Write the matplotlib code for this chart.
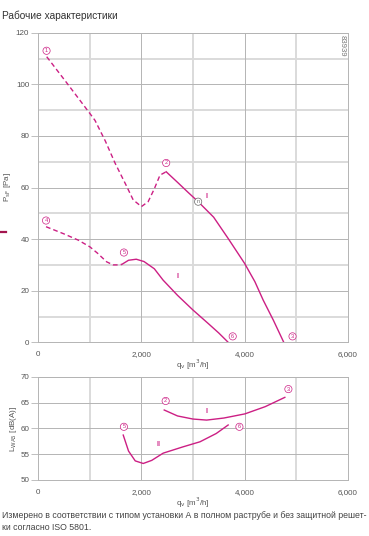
import matplotlib
matplotlib.use("Agg")
import matplotlib.pyplot as plt
from matplotlib.lines import Line2D

plt.rcParams['font.family'] = ['Liberation Sans', 'DejaVu Sans']

# ---- data: pressure curves (q_v [m3/h], p_sF [Pa]) ----
c1_dash_q = [163, 550, 1000, 1100, 1300, 1490, 1700, 1840, 2000, 2130, 2250, 2360, 2480]
c1_dash_p = [110.7, 100.6, 88.7, 86.0, 78.0, 69.4, 61.0, 55.2, 52.6, 54.5, 59.5, 64.8, 66.1]
c1_sol_q = [2480, 2700, 2900, 3100, 3400, 3680, 4000, 4200, 4360, 4560, 4760]
c1_sol_p = [66.1, 62.0, 58.2, 54.5, 48.5, 40.3, 30.6, 23.5, 16.4, 8.5, 0.0]

c2_dash_q = [150, 500, 775, 1000, 1150, 1325, 1450, 1550, 1620]
c2_dash_p = [44.8, 42.0, 39.6, 37.0, 34.5, 31.2, 30.0, 30.0, 30.2]
c2_sol_q = [1620, 1750, 1900, 2050, 2250, 2420, 2700, 3000, 3300, 3500, 3682]
c2_sol_p = [30.2, 31.8, 32.2, 31.3, 28.5, 24.1, 18.2, 12.5, 7.2, 3.6, 0.0]

# ---- data: sound power curves (q_v [m3/h], L_WA5 [dB(A)]) ----
s1_q = [2442, 2700, 3000, 3264, 3600, 4006, 4400, 4781]
s1_l = [63.55, 62.4, 61.8, 61.6, 62.0, 62.8, 64.2, 66.0]
s2_q = [1647, 1750, 1880, 2035, 2200, 2422, 2800, 3136, 3450, 3682]
s2_l = [58.7, 55.6, 53.7, 53.2, 53.8, 55.2, 56.4, 57.4, 59.0, 60.65]

# labels on curves
p_marks = [("1", 160, 113.0), ("2", 2480, 69.5), ("3", 4930, 2.3),
           ("4", 150, 47.2), ("5", 1660, 34.8), ("6", 3770, 2.3)]
s_marks = [("5", 1660, 60.3), ("2", 2470, 65.3), ("3", 4850, 67.6), ("6", 3900, 60.3)]

x_ticks = [0, 2000, 4000, 6000]
x_tick_labels = ["0", "2,000", "4,000", "6,000"]
p_ticks = [0, 20, 40, 60, 80, 100, 120]
l_ticks = [50, 55, 60, 65, 70]

PINK = '#cc1f84'
GRID_D = '#b4b4b4'
GRID_L = '#dadada'
TXT = '#555555'

W, H = 369, 536
fig = plt.figure(figsize=(W / 100, H / 100), dpi=100)

def fx(px):
    return px / W

def fy(py):
    return 1 - py / H

L, R = 38.3, 347.7
ax1 = fig.add_axes([fx(L), fy(342.3), fx(R - L), (342.3 - 32.7) / H])
ax2 = fig.add_axes([fx(L), fy(480.0), fx(R - L), (480.0 - 376.7) / H])

FS = 5.8

def style(ax, yt, ymin, ymax, yminor):
    ax.set_xlim(0, 6000)
    ax.set_ylim(ymin, ymax)
    for v in [1000, 3000, 5000]:
        ax.axvline(v, color=GRID_L, lw=1.4, zorder=0)
    for v in yminor:
        ax.axhline(v, color=GRID_L, lw=1.4, zorder=0)
    for v in [2000, 4000]:
        ax.axvline(v, color=GRID_D, lw=0.7, zorder=0.5)
    for v in yt:
        ax.axhline(v, color=GRID_D, lw=0.7, zorder=0.5)
    for s in ax.spines.values():
        s.set_color(GRID_D)
        s.set_linewidth(0.7)
    ax.set_xticks(x_ticks)
    ax.set_xticklabels(x_tick_labels)
    ax.set_yticks(yt)
    ax.tick_params(axis='x', length=0, pad=6.5, labelsize=FS, colors=TXT)
    ax.tick_params(axis='y', length=5, width=0.6, pad=1.5, labelsize=FS,
                   colors=TXT, color=GRID_D)
    ax.set_xlabel(r"q$_{\rm v}$ [m$^3$/h]", fontsize=FS, color=TXT, labelpad=-0.5)

style(ax1, p_ticks, 0, 120, [10, 30, 50, 70, 90, 110])
style(ax2, l_ticks, 50, 70, [])
ax1.set_ylabel(r"P$_{\rm sF}$ [Pa]", fontsize=FS, color=TXT, labelpad=2)
ax2.set_ylabel(r"L$_{\rm WA5}$ [dB(A)]", fontsize=FS, color=TXT, labelpad=1)

dash = (0, (3.4, 2.2))
ax1.plot(c1_dash_q, c1_dash_p, color=PINK, lw=1.0, linestyle=dash, zorder=3)
ax1.plot(c1_sol_q, c1_sol_p, color=PINK, lw=1.0, zorder=3)
ax1.plot(c2_dash_q, c2_dash_p, color=PINK, lw=1.0, linestyle=dash, zorder=3)
ax1.plot(c2_sol_q, c2_sol_p, color=PINK, lw=1.0, zorder=3)
ax2.plot(s1_q, s1_l, color=PINK, lw=1.0, zorder=3)
ax2.plot(s2_q, s2_l, color=PINK, lw=1.0, zorder=3)

def circ(ax, txt, x, y, col=PINK, fc='white'):
    ax.text(x, y, txt, fontsize=4.0, color=col, ha='center', va='center', zorder=5,
            bbox=dict(boxstyle='circle,pad=0.2', fc=fc, ec=col, lw=0.5))

for t, x, y in p_marks:
    circ(ax1, t, x, y)
for t, x, y in s_marks:
    circ(ax2, t, x, y)
circ(ax1, "n", 3100, 54.5, col='#666666')

ax1.text(3260, 56.5, "I", fontsize=5, color=PINK, ha='center', va='center', fontweight='bold', zorder=5)
ax1.text(2700, 25.5, "I", fontsize=5, color=PINK, ha='center', va='center', fontweight='bold', zorder=5)
ax2.text(3270, 63.2, "I", fontsize=5, color=PINK, ha='center', va='center', fontweight='bold', zorder=5)
ax2.text(2340, 56.9, "II", fontsize=5, color=PINK, ha='center', va='center', fontweight='bold', zorder=5)

fig.text(fx(342.5), fy(46), "83939", rotation=270, fontsize=5.6, color='#777777',
         ha='center', va='center')

fig.add_artist(Line2D([0, fx(5.7)], [fy(232.3), fy(232.3)], color='#a3154f', lw=1.6))

fig.text(fx(2), fy(16), "Рабочие характеристики", fontsize=7.3, color='#333333',
         ha='left', va='center')
fig.text(fx(2), fy(516), "Измерено в соответствии с типом установки А в полном раструбе и без защитной решет-",
         fontsize=6.35, color='#444444', ha='left', va='center')
fig.text(fx(2), fy(528), "ки согласно ISO 5801.", fontsize=6.35, color='#444444',
         ha='left', va='center')

fig.savefig("out.png", dpi=100)
